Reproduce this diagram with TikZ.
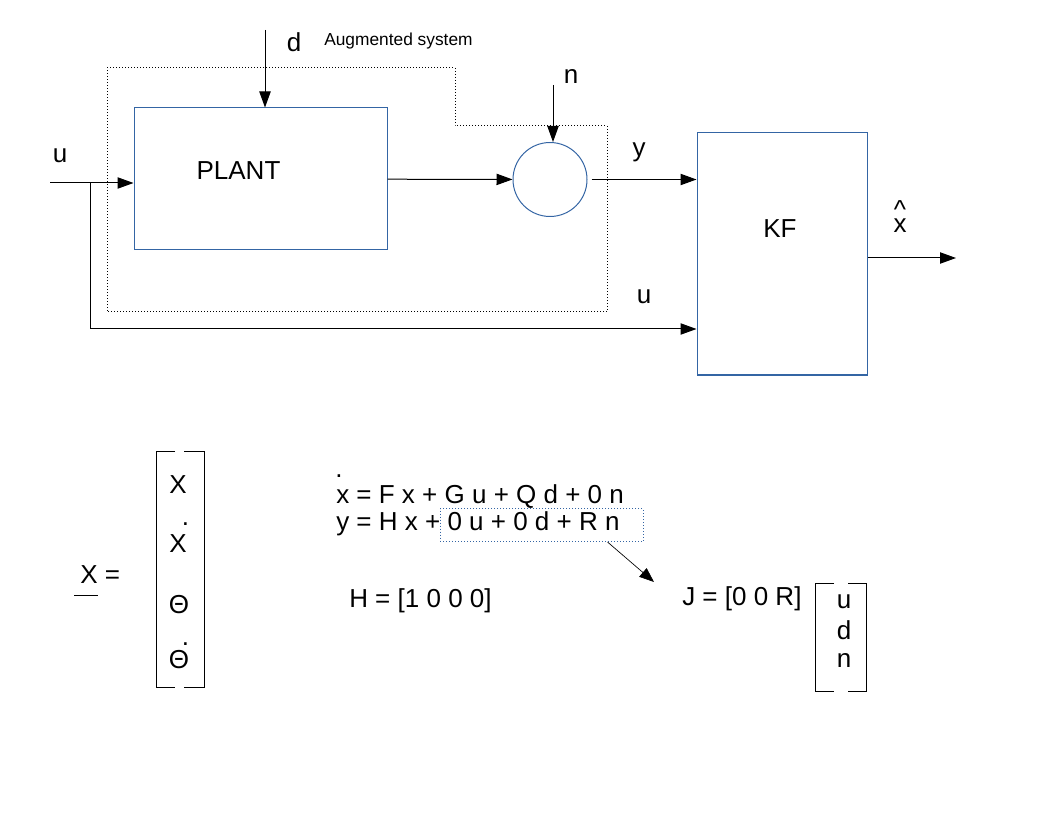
\documentclass[tikz,border=0pt]{standalone}
\usepackage{fontspec}
\setmainfont{Liberation Sans}
\usetikzlibrary{arrows.meta, positioning}
\definecolor{boxblue}{HTML}{3465A4}
\tikzset{
  blk/.style={rectangle, draw=boxblue, line width=0.75pt, inner sep=0pt},
  lbl/.style={font=\fontsize{19.5}{23}\selectfont, inner sep=0pt},
  small/.style={font=\fontsize{13}{16}\selectfont, inner sep=0pt},
  arr/.style={-{Triangle[length=12pt,width=8.5pt]}, line width=0.75pt},
  thinarr/.style={-{Triangle[length=11pt,width=8.5pt]}, line width=0.5pt},
  dots/.style={dash pattern=on 0.75pt off 1.5pt, line width=0.75pt},
  brk/.style={line width=0.75pt},
}

\begin{document}
\begin{tikzpicture}[x=0.75pt, y=-0.75pt]
  \useasboundingbox (0,0) rectangle (1056,816);

  % blocks
  \node[blk, minimum width=189.75pt, minimum height=106.5pt] (plant) at (260.5,179) {};
  \node[blk, circle, minimum size=55.5pt] (sum) at (550,179.5) {};
  \node[blk, minimum width=127.5pt, minimum height=181.5pt] (kf) at (782,254) {};
  \node[lbl] (plantlbl) at (238.5,170.5) {PLANT};
  \node[lbl] (kflbl) at (780,228.5) {KF};

  % augmented system
  \draw[dots] (107,68) -- (455,68) -- (455,126) -- (607,126) -- (607,312) -- (107,312) -- cycle;
  \node[small, anchor=base west] (aug) at (324,46) {Augmented system};

  \coordinate (din) at (265,30);
  \coordinate (uin) at (50,183);
  \coordinate (ubr) at (90,183);
  \coordinate (ulow) at (90,329);
  \coordinate (nin) at (553,85);
  \coordinate (xout) at (956,258);

  \draw[arr] (din) -- (din |- plant.north);
  \draw[arr] (uin) -- (uin -| plant.west);
  \draw[arr] (ubr) -- (ulow) -- (ulow -| kf.west);
  \draw[arr] (plant) -- (sum);
  \draw[arr] (nin) -- (nin |- sum.north);
  \draw[arr] ([xshift=3pt]sum.east) -- (sum -| kf.west);
  \draw[arr] (kf.east |- xout) -- (xout);

  \node[lbl, anchor=base] (ulbl) at (60,163) {u};
  \node[lbl, anchor=base] (dlbl) at (294,52) {d};
  \node[lbl, anchor=base] (nlbl) at (571,84) {n};
  \node[lbl, anchor=base] (ylbl) at (639,157) {y};
  \node[lbl, anchor=base] (ukflbl) at (644,304) {u};
  \node[lbl, anchor=base] (xhat) at (900,233) {x};
  \node[lbl, above=0pt of xhat] (hat) {\textasciicircum};

  % state vector
  \node[lbl, anchor=base west] (xvec) at (80,583) {X =};
  \draw[brk] (74,595) -- (98,595);
  \draw[brk] (175,451) -- (156,451) -- (156,687) -- (175,687);
  \draw[brk] (184,451) -- (204,451) -- (204,687) -- (184,687);
  \node[lbl, anchor=base] (x1) at (178,493) {X};
  \node[lbl, anchor=base] (x2) at (178,552) {X};
  \node[lbl, anchor=base] (x2dot) at (185.5,525.5) {.};
  \node[lbl, anchor=base] (x3) at (179,613) {Θ};
  \node[lbl, anchor=base] (x4) at (179,668) {Θ};
  \node[lbl, anchor=base] (x4dot) at (185.5,645.5) {.};

  % equations
  \node[lbl, anchor=base west] (eqx) at (336,503) {x = F x + G u + Q d + 0 n};
  \node[lbl, anchor=base] (eqdot) at (339,477.5) {.};
  \node[lbl, anchor=base west] (eqy) at (336,530) {y = H x + 0 u + 0 d + R n};
  \node[draw=boxblue, dots, minimum width=152.25pt, minimum height=24.75pt, inner sep=0pt] (sel) at (541.5,525) {};
  \coordinate (jtip) at (654,582);
  \draw[thinarr] ([xshift=49.5pt]sel.south) -- (jtip);

  \node[lbl, anchor=base west] (hrow) at (349,607) {H = [1 0 0 0]};
  \node[lbl, anchor=base west] (jrow) at (682,605) {J = [0 0 R]};
  \draw[brk] (834,583) -- (815,583) -- (815,691) -- (834,691);
  \draw[brk] (848,583) -- (866,583) -- (866,691) -- (848,691);
  \foreach \v/\yy in {u/608, d/639, n/667}
    \node[lbl, anchor=base] (j\v) at (844,\yy) {\v};

\end{tikzpicture}
\end{document}
